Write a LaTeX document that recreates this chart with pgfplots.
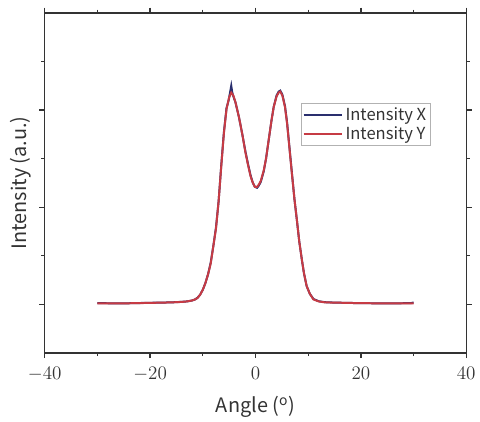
\documentclass[border=0pt]{standalone}
\usepackage{pgfplots}
\pgfplotsset{compat=1.18}
\usepackage{fontspec}
\setmainfont{Noto Sans CJK SC}

\definecolor{intx}{HTML}{2A2F6E}
\definecolor{inty}{HTML}{C63B44}
\definecolor{axgray}{HTML}{333333}

\pgfplotsset{
    longline legend/.style={
        legend image code/.code={%
            \draw[##1] (0pt,0pt) -- (29pt,0pt);%
        },
        legend image post style={line width=1.5pt}
    }
}

\begin{document}
\begin{tikzpicture}
\begin{axis}[
    scale only axis,
    width=318pt,
    height=256.5pt,
    xmin=-40, xmax=40,
    ymin=-0.5, ymax=3,
    xtick={-40,-20,0,20,40},
    minor xtick={-30,-10,10,30},
    ytick={0,1,2},
    minor ytick={0.5,1.5,2.5},
    yticklabels={},
    tick align=outside,
    major tick length=4pt,
    minor tick length=2.5pt,
    axis line style={axgray, line width=1.1pt},
    every tick/.style={axgray, line width=1pt},
    tick label style={font=\fontsize{14}{16}\selectfont, text=axgray},
    xticklabel style={yshift=-3.5pt},
    xlabel={Angle (\textsuperscript{o})},
    ylabel={Intensity (a.u.)},
    label style={font=\fontsize{15}{18}\selectfont, text=axgray},
    xlabel style={at={([yshift=-45pt]axis description cs:0.5,0)}, anchor=base},
    ylabel style={at={([xshift=-14pt]axis description cs:0,0.5)}, anchor=base, rotate=0},
    legend style={at={(axis description cs:0.607,0.736)}, anchor=north west,
        draw=gray!60, line width=0.8pt, inner sep=1.2pt,
        font=\fontsize{12.5}{14}\selectfont, text=axgray,
        nodes={inner sep=1.8pt}, cells={anchor=west}},
    longline legend,
    clip=false
]

% Intensity X
\addplot[intx, line width=1.5pt] coordinates {
(-30,0.012) (-25,0.01) (-20,0.016) (-16,0.02) (-14,0.026) (-13,0.03) (-12,0.04)
(-11.5,0.05) (-11,0.068) (-10.5,0.10) (-10,0.15) (-9.5,0.22) (-9,0.31)
(-8.5,0.43) (-8,0.60) (-7.5,0.79) (-7,1.06) (-6.5,1.43) (-6,1.77) (-5.5,2.02)
(-5.1,2.10) (-4.9,2.16) (-4.6,2.25) (-4.4,2.18) (-4.2,2.14) (-3.8,2.08)
(-3.15,1.93) (-2.5,1.75) (-1.9,1.57) (-1.4,1.44) (-0.94,1.33) (-0.5,1.25)
(-0.13,1.21) (0.3,1.20) (0.6,1.22) (1.0,1.26) (1.57,1.37) (2.0,1.50)
(2.5,1.69) (3.0,1.88) (3.45,2.03) (4.0,2.15) (4.4,2.19) (4.7,2.20) (5.1,2.16)
(5.6,2.04) (6.0,1.87) (6.3,1.70) (6.9,1.36) (7.4,1.08) (7.85,0.87) (8.3,0.65)
(8.8,0.46) (9.2,0.32) (9.7,0.19) (10.3,0.11) (11,0.055) (12,0.032)
(13.2,0.022) (15,0.018) (20,0.012) (25,0.01) (29.5,0.012) (30,0.02)
};

% Intensity Y
\addplot[inty, line width=1.5pt] coordinates {
(-30,0.01) (-25,0.01) (-20,0.015) (-16,0.02) (-14,0.025) (-13,0.03) (-12,0.04)
(-11.5,0.05) (-11,0.065) (-10.5,0.10) (-10,0.15) (-9.5,0.22) (-9,0.31)
(-8.5,0.42) (-8,0.60) (-7.5,0.78) (-7,1.06) (-6.5,1.42) (-6,1.76) (-5.5,2.01)
(-5,2.13) (-4.6,2.18) (-4.2,2.15) (-3.8,2.08) (-3.15,1.93) (-2.5,1.75)
(-1.9,1.56) (-1.4,1.43) (-0.94,1.32) (-0.5,1.25) (-0.13,1.21) (0.3,1.21)
(0.6,1.23) (1.0,1.27) (1.57,1.38) (2.0,1.50) (2.5,1.69) (3.0,1.88)
(3.45,2.03) (4.0,2.14) (4.4,2.18) (4.7,2.19) (5.1,2.15) (5.6,2.03)
(6.0,1.86) (6.3,1.69) (6.9,1.35) (7.4,1.08) (7.85,0.87) (8.3,0.65)
(8.8,0.46) (9.2,0.32) (9.7,0.19) (10.3,0.11) (11,0.05) (12,0.03)
(13.2,0.02) (15,0.018) (20,0.012) (25,0.01) (29.5,0.01) (30,0.01)
};

\legend{Intensity X, Intensity Y}

% keep the reference's margins round the axis
\path ([shift={(-33.75pt,-49.5pt)}]current axis.south west)
    rectangle ([shift={(8.25pt,9.75pt)}]current axis.north east);
\end{axis}
\end{tikzpicture}
\end{document}
